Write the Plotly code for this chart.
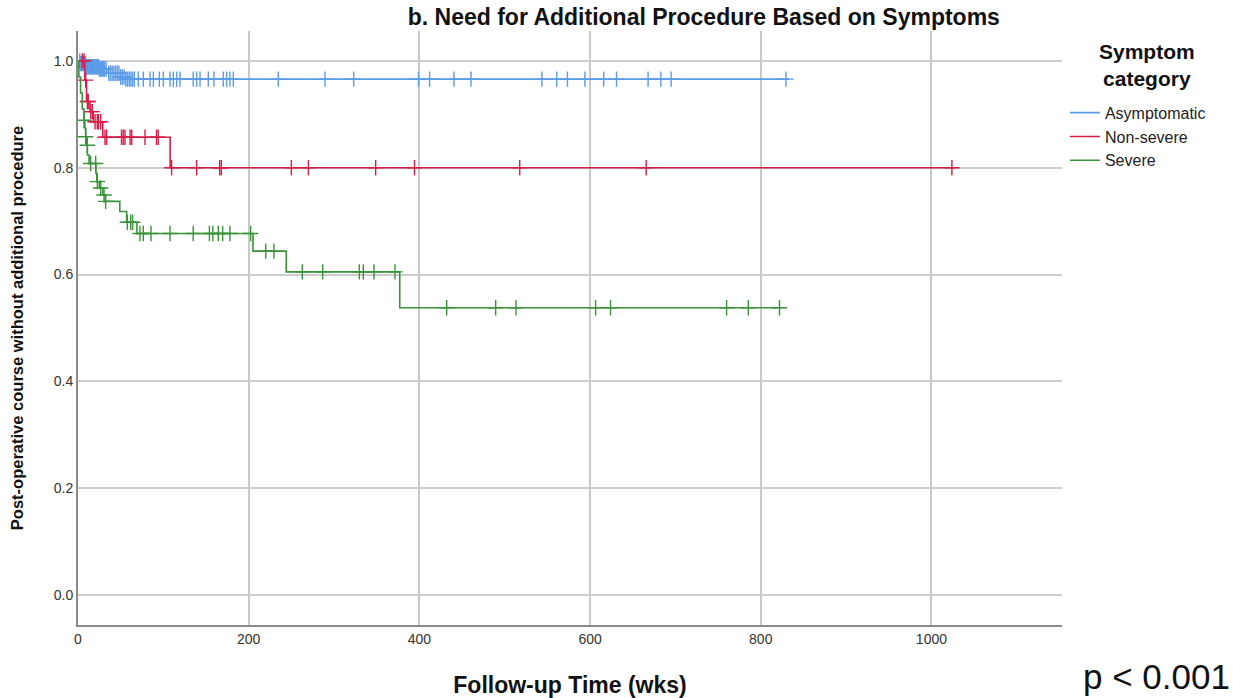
import plotly.graph_objects as go
import numpy as np

# ---- data ----
groups = ["Asymptomatic", "Non-severe", "Severe"]

asym_event_times = [0, 3, 10, 25, 34, 50, 56]
asym_survival = [1.0, 0.995, 0.989, 0.985, 0.977, 0.970, 0.966]
asym_end_time = 833
asym_censor_times = [2, 3, 4, 5, 6, 7, 8, 9, 10, 11, 12, 13, 14, 15, 16, 17, 18, 19, 20, 21, 22, 23,
                     24, 25, 26, 27, 28, 29, 30, 31, 33, 36, 38, 40, 42, 44, 46, 48, 50, 52, 54, 56,
                     58, 60, 62, 64, 66, 70.7, 76.5, 84.4, 88.3, 95.3, 100, 107.8, 111.7, 115.6,
                     119.5, 135, 139, 143, 152.7, 159.3, 170.3, 174.2, 178, 182, 234.7, 289.4, 323,
                     399, 412, 440.5, 460.5, 543.6, 561, 573.5, 594, 616, 631, 668, 683, 695, 829.5]

nons_event_times = [0, 8, 10, 14, 18, 29, 108]
nons_survival = [1.0, 0.964, 0.924, 0.905, 0.886, 0.857, 0.800]
nons_end_time = 1027
nons_censor_times = [5, 7, 9, 11, 12, 15, 16.8, 20, 22.6, 24, 26.6, 31.6, 33.6, 51, 53, 55, 61, 63,
                     78.5, 92, 94, 109.7, 139, 166, 168, 250, 270, 348.8, 394.3, 517.6, 665.8, 1024]

sev_event_times = [0, 1, 3, 5, 7, 8, 9, 10, 11, 13, 21, 22, 25, 29, 32, 49, 57, 69, 205, 244, 377]
sev_survival = [1.0, 0.970, 0.940, 0.910, 0.889, 0.874, 0.858, 0.842, 0.824, 0.808, 0.790, 0.774,
                0.762, 0.749, 0.737, 0.718, 0.698, 0.677, 0.644, 0.605, 0.538]
sev_end_time = 825
sev_censor_times = [7, 9, 10.9, 14.8, 20.7, 22.7, 26.6, 30.5, 32.4, 57.8, 61.7, 64, 72.6, 76.5, 85.5,
                    107.8, 135, 154, 158, 164.4, 169.5, 178, 202.3, 220, 229.6, 262.8, 286.7, 329.6,
                    334.3, 346.8, 371.4, 432, 489.4, 513.2, 606.5, 624, 760, 785.4, 822]

x_ticks = [0, 200, 400, 600, 800, 1000]
y_ticks = [0.0, 0.2, 0.4, 0.6, 0.8, 1.0]

colors = {"Asymptomatic": "#5b9be8", "Non-severe": "#d81e48", "Severe": "#3a933a"}

series = {
    "Asymptomatic": (asym_event_times, asym_survival, asym_end_time, asym_censor_times),
    "Non-severe": (nons_event_times, nons_survival, nons_end_time, nons_censor_times),
    "Severe": (sev_event_times, sev_survival, sev_end_time, sev_censor_times),
}


def surv_at(times, surv, t):
    idx = np.searchsorted(np.array(times), t, side="right") - 1
    return surv[max(idx, 0)]


fig = go.Figure()
for name in groups:
    et, sv, end, ct = series[name]
    xs = list(et) + [end]
    ys = list(sv) + [sv[-1]]
    fig.add_trace(go.Scatter(x=xs, y=ys, mode="lines", line=dict(color=colors[name], width=1.6, shape="hv"),
                             name=name, legendgroup=name))
    cy = [surv_at(et, sv, t) for t in ct]
    fig.add_trace(go.Scatter(x=ct, y=cy, mode="markers", showlegend=False, legendgroup=name,
                             marker=dict(symbol="cross-thin", size=11,
                                         line=dict(color=colors[name], width=1.4))))

fig.update_layout(
    width=1233, height=698,
    margin=dict(l=78, r=171, t=31, b=73, autoexpand=False),
    paper_bgcolor="white", plot_bgcolor="white",
    font=dict(family="Liberation Sans, Arial, sans-serif", color="#333"),
    title=dict(text="<b>b. Need for Additional Procedure Based on Symptoms</b>",
               font=dict(family="Liberation Sans, Arial", size=23, color="#111"),
               x=0.636, xanchor="center", xref="paper", y=0.987, yanchor="top", yref="container"),
    xaxis=dict(range=[0, 1153], tickvals=x_ticks, ticktext=[str(v) for v in x_ticks],
               showgrid=True, gridcolor="#c9c9c9", gridwidth=1.5, zeroline=False,
               showline=True, linecolor="#8a8a8a", linewidth=2, ticks="", automargin=False,
               tickfont=dict(size=14, color="#333"),
               title=dict(text="<b>Follow-up Time (wks)</b>", standoff=32,
                          font=dict(size=23, color="#111"))),
    yaxis=dict(range=[-0.056, 1.056], tickvals=y_ticks, ticktext=[f"{v:.1f}" for v in y_ticks],
               showgrid=True, gridcolor="#cdcdcd", gridwidth=2, zeroline=False,
               showline=True, linecolor="#8a8a8a", linewidth=2, ticks="", automargin=False,
               tickfont=dict(size=14, color="#333"),
               title=dict(text="<b>Post-operative course without additional procedure</b>", standoff=26,
                          font=dict(size=16.5, color="#111"))),
    legend=dict(x=1.003, xanchor="left", y=0.891, yanchor="top", bgcolor="rgba(0,0,0,0)",
                font=dict(size=16, color="#222"), tracegroupgap=0),
    annotations=[
        dict(text="<b>Symptom<br>category</b>", x=1.086, xref="paper", xanchor="center",
             y=0.943, yref="paper", yanchor="middle", showarrow=False,
             font=dict(size=21, color="#111")),
        dict(text="p < 0.001", x=1.173, xref="paper", xanchor="right", y=-0.0859, yref="paper",
             yanchor="middle", showarrow=False, font=dict(size=35, color="#111")),
    ],
)

fig.write_html("out.html", config={"displayModeBar": False},
               post_script="document.body.style.margin='0';")
